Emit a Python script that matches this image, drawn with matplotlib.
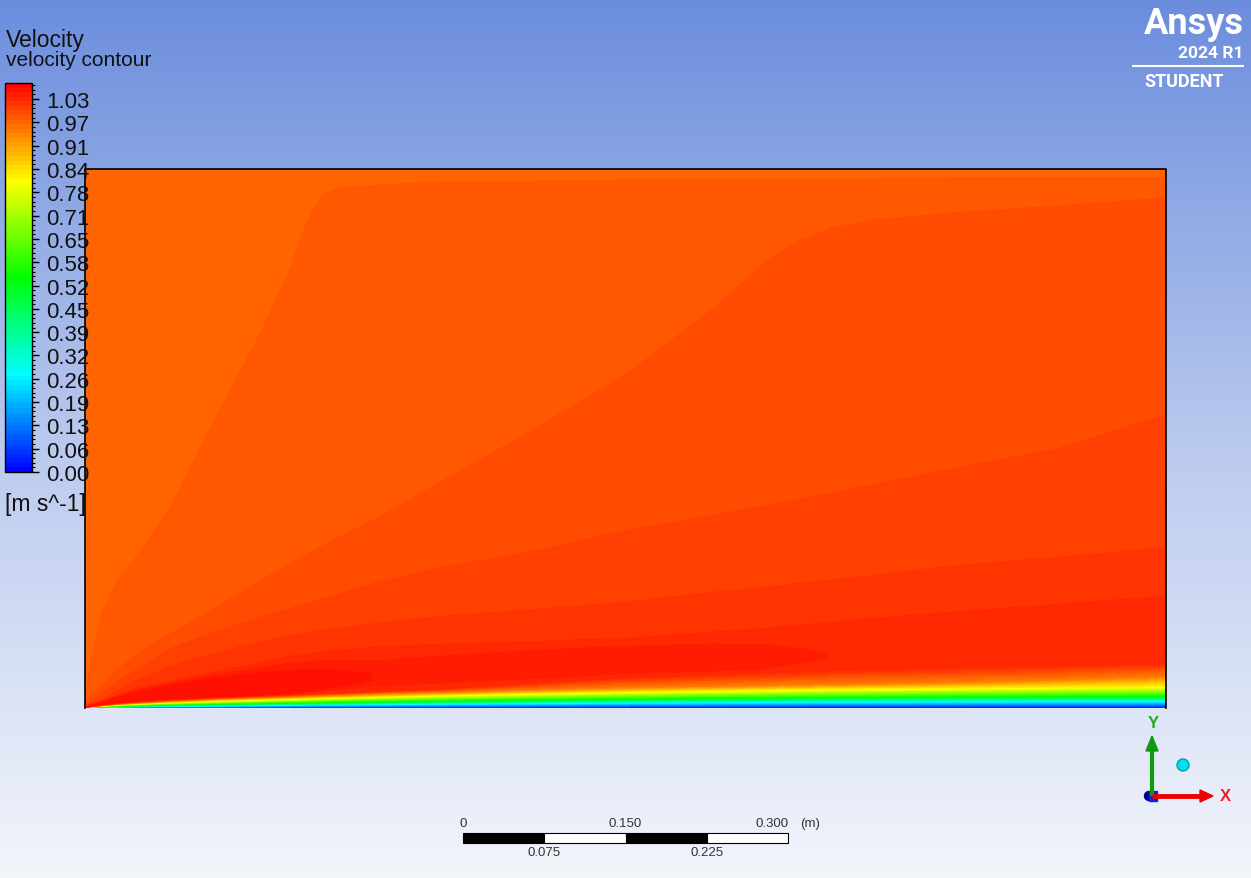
import numpy as np
import matplotlib
matplotlib.use("Agg")
import matplotlib.pyplot as plt
from matplotlib.colors import LinearSegmentedColormap
from matplotlib.patches import Rectangle, Circle, Polygon
from matplotlib.ticker import AutoMinorLocator

plt.rcParams['font.family'] = ['Liberation Sans', 'DejaVu Sans']

W, H = 1251, 879

# stations along the plate (m)
x_st = [0.0, 0.005, 0.015, 0.03, 0.05, 0.08, 0.1, 0.12, 0.16, 0.19, 0.2, 0.21, 0.22,
        0.235, 0.27, 0.33, 0.42, 0.5, 0.58, 0.63, 0.66, 0.69, 0.73, 0.8, 0.9, 1.0]

# heights (mm) of the velocity isolines at each station
y_cyan = [0.02, 0.3, 0.6, 0.9, 1.3, 1.7, 1.9, 2.1, 2.5, 2.8, 2.9, 3.0, 3.05,
          3.1, 3.4, 3.9, 4.4, 4.9, 5.3, 5.5, 5.6, 5.7, 5.8, 6.0, 6.3, 6.5]
y_green = [0.05, 0.5, 1.0, 1.7, 2.3, 3.0, 3.4, 3.8, 4.4, 4.9, 5.0, 5.2, 5.4,
           5.6, 6.0, 6.8, 7.8, 8.6, 9.3, 9.6, 9.8, 10.0, 10.2, 10.6, 10.9, 11.1]
y_yellow = [0.08, 0.7, 1.7, 2.8, 3.9, 5.1, 5.8, 6.5, 7.6, 8.3, 8.6, 8.9, 9.2,
            9.5, 10.4, 11.7, 13.4, 14.8, 15.9, 16.5, 16.9, 17.2, 17.6, 18.1, 18.9, 19.4]
y_orange = [0.12, 0.9, 2.1, 3.5, 4.9, 6.5, 7.4, 8.3, 9.7, 10.6, 11.0, 11.4, 11.8,
            12.2, 13.3, 14.8, 17.1, 19.0, 20.4, 21.3, 21.8, 22.2, 22.7, 24.1, 26.4, 29.6]
y_bl_edge = [0.2, 1.2, 2.7, 4.3, 5.8, 7.6, 8.6, 9.5, 11.1, 12.2, 12.6, 13.0, 13.5,
             13.9, 15.3, 17.6, 23.2, 27.8, 30.6, 31.9, 33.3, 34.3, 35.7, 37.0, 38.9, 40.7]
y_ridge_lo = [0.4, 1.7, 3.3, 5.1, 6.8, 8.7, 9.7, 10.6, 12.0, 13.9, 15.3, 16.7, 19.0,
              21.3, 25.9, 27.8, 30.6, 34.3, 36.1, 38.0, 42.6, 47.2, 48.2, 50.9, 55.6, 60.2]
y_ridge_hi = [0.6, 2.3, 4.5, 9.0, 14.0, 20.0, 23.0, 26.0, 29.5, 31.5, 32.0, 32.4, 32.4,
              32.4, 31.5, 38.9, 48.2, 52.8, 53.7, 53.7, 51.9, 50.0, 53.7, 61.1, 67.6, 75.9]
y_iso5 = [0.9, 2.8, 6.0, 12.0, 19.0, 25.0, 29.5, 34.0, 41.5, 48.2, 49.5, 50.9, 52.3,
          53.7, 56.5, 59.3, 62.0, 64.8, 70.4, 74.1, 76.9, 79.6, 83.3, 88.9, 96.3, 103.7]
y_iso4 = [1.9, 3.7, 7.4, 15.7, 26.9, 38.9, 45.0, 50.9, 61.1, 67.6, 69.0, 70.4, 72.2,
          74.1, 78.7, 85.2, 91.7, 98.2, 107.4, 112.0, 115.8, 118.5, 123.2, 131.5, 139.8, 149.1]
y_iso3 = [2.8, 5.6, 12.0, 24.1, 37.0, 55.6, 63.0, 70.4, 83.3, 92.6, 95.4, 98.2, 101.9,
          105.6, 116.7, 130.6, 146.3, 164.8, 178.7, 188.0, 193.5, 199.1, 207.4, 221.3, 240.8, 272.2]
y_iso2 = [4.6, 10.2, 20.4, 35.2, 51.9, 69.5, 81.0, 92.6, 116.7, 134.3, 139.8, 145.2, 150.6,
          158.6, 176.0, 210.2, 261.1, 309.3, 369.5, 413.9, 433.4, 445.4, 452.8, 459.3, 465.8, 473.2]
y_iso1 = [9.3, 40.7, 87.0, 118.5, 143.5, 188.0, 227.8, 267.6, 343.5, 407.4, 439.0, 460.0, 476.0,
          482.4, 485.2, 488.0, 488.9, 489.9, 489.9, 490.7, 490.7, 490.7, 490.7, 491.7, 491.7, 492.6]
y_top = 500.0

# peak velocity just outside the boundary layer (m/s)
u_ridge = [1.035, 1.058, 1.063, 1.063, 1.063, 1.063, 1.063, 1.063, 1.062, 1.061, 1.0605, 1.060, 1.059,
           1.058, 1.0535, 1.052, 1.050, 1.049, 1.048, 1.046, 1.0435, 1.0412, 1.040, 1.038, 1.036, 1.035]

# velocity carried by each isoline (m/s)
u_cyan, u_green, u_yellow, u_orange = 0.27, 0.54, 0.81, 0.945
u_iso = [1.0287, 1.0160, 1.0033, 0.9906, 0.9779]
u_top = 0.972

cbar_labels = ["0.00", "0.06", "0.13", "0.19", "0.26", "0.32", "0.39", "0.45", "0.52",
               "0.58", "0.65", "0.71", "0.78", "0.84", "0.91", "0.97", "1.03"]
legend_range = 1.0995
u_max = 1.0795
n_bands = 85

scale_labels_top = ["0", "0.150", "0.300"]
scale_labels_bot = ["0.075", "0.225"]

# ---- grid -------------------------------------------------------------
rows_y = [np.zeros(len(x_st)), y_cyan, y_green, y_yellow, y_orange, y_bl_edge,
          y_ridge_lo, y_ridge_hi, y_iso5, y_iso4, y_iso3, y_iso2, y_iso1,
          np.full(len(x_st), y_top)]
rows_u = [0.0, u_cyan, u_green, u_yellow, u_orange, u_iso[0],
          u_ridge, u_ridge, u_iso[0], u_iso[1], u_iso[2], u_iso[3], u_iso[4], u_top]

Y = np.array([np.asarray(r, float) for r in rows_y]) / 1000.0
U = np.array([np.broadcast_to(np.asarray(u, float), (len(x_st),)) for u in rows_u])
X = np.tile(np.asarray(x_st), (len(rows_y), 1))

cmap = LinearSegmentedColormap.from_list(
    "ansys_rainbow", ["#0000ff", "#00ffff", "#00ff00", "#ffff00", "#ff0000"])
levels = np.arange(n_bands + 1) * (u_max / n_bands)

fig = plt.figure(figsize=(W / 100, H / 100), dpi=100)


def box(x0, y0, x1, y1):
    return [x0 / W, 1 - y1 / H, (x1 - x0) / W, (y1 - y0) / H]


# background gradient
bg = fig.add_axes([0, 0, 1, 1])
grad = LinearSegmentedColormap.from_list("bg", ["#6b8ddd", "#b9c9ee", "#f3f5fb"])
bg.imshow(np.linspace(0, 1, 256)[:, None], aspect='auto', cmap=grad,
          extent=(0, W, H, 0))
bg.set_xlim(0, W)
bg.set_ylim(H, 0)
bg.axis('off')

# contour field
ax = fig.add_axes(box(85, 170, 1166, 709))
cs = ax.contourf(X, Y, U, levels=levels, cmap=cmap, vmin=0, vmax=u_max)
ax.set_xlim(0, 1.0)
ax.set_ylim(0, 0.5)
ax.axis('off')
ax.plot([0, 0, 1, 1], [0, 0.5, 0.5, 0], color='black', lw=1.2, clip_on=False)

# scale bar in domain units (m)
sb_x0, sb_y, sb_h = 0.35, -0.125, 0.0093
for i in range(4):
    ax.add_patch(Rectangle((sb_x0 + i * 0.075, sb_y), 0.075, sb_h,
                           facecolor='black' if i % 2 == 0 else 'white',
                           edgecolor='black', lw=0.8, clip_on=False))
for i, lab in enumerate(scale_labels_top):
    ax.text(sb_x0 + i * 0.15 - (0.014 if i == 2 else 0), -0.1065, lab,
            ha='center', va='center', fontsize=9.5, color='#333333')
ax.text(sb_x0 + 0.3 + 0.012, -0.1065, "(m)", ha='left', va='center',
        fontsize=9.5, color='#333333')
for i, lab in enumerate(scale_labels_bot):
    ax.text(sb_x0 + 0.075 + i * 0.15, -0.1335, lab, ha='center', va='center',
            fontsize=9.5, color='#333333')

# legend
cax = fig.add_axes(box(5, 84, 32, 473))
cax.set_zorder(5)
cb = fig.colorbar(cs, cax=cax)
cb.outline.set_edgecolor('black')
cb.outline.set_linewidth(1)
tick_pos = np.linspace(0, legend_range, 18)[:17]
cb.set_ticks(tick_pos)
cb.set_ticklabels(cbar_labels)
cax.yaxis.set_minor_locator(AutoMinorLocator(5))
cax.tick_params(which='major', length=5, width=1, pad=5, labelsize=16, colors='black')
cax.tick_params(which='minor', length=2.5, width=0.8, colors='black')
for t in cax.get_yticklabels():
    t.set_color('#111111')

bg.text(6, 40, "Velocity", fontsize=16.5, ha='left', va='center', color='#111111')
bg.text(6, 61, "velocity contour", fontsize=15, ha='left', va='center', color='#111111')
bg.text(5, 505, "[m s^-1]", fontsize=16.5, ha='left', va='center', color='#111111')

# logo
bg.text(1244, 24, "Ansys", fontsize=26, fontweight='bold', ha='right', va='center',
        color='white', family=['Roboto', 'DejaVu Sans'])
bg.text(1243, 53, "2024 R1", fontsize=12.5, fontweight='bold', ha='right', va='center',
        color='white', family=['Roboto', 'DejaVu Sans'])
bg.plot([1133, 1243], [67, 67], color='white', lw=1.5)
bg.text(1184, 82, "STUDENT", fontsize=13, fontweight='bold', ha='center', va='center',
        color='white', family=['Roboto', 'DejaVu Sans'])

# axis triad
bg.plot([1152, 1152], [797, 752], color='#119911', lw=3, solid_capstyle='butt')
bg.add_patch(Polygon([[1146, 752], [1158, 752], [1152, 737]], closed=True, color='#119911'))
bg.plot([1152, 1200], [797, 797], color='#ee0000', lw=3.5, solid_capstyle='butt')
bg.add_patch(Polygon([[1200, 791], [1200, 803], [1213, 797]], closed=True, color='#ee0000'))
bg.add_patch(Circle((1149, 797), 4.5, color='#000088'))
bg.add_patch(Rectangle((1149, 792), 8, 10, color='#1020dd'))
bg.add_patch(Circle((1183, 766), 6, facecolor='#00e0f0', edgecolor='#00a0b0', lw=1))
bg.text(1153, 724, "Y", fontsize=12, fontweight='bold', color='#22aa22', ha='center', va='center')
bg.text(1225, 797, "X", fontsize=12, fontweight='bold', color='#ee2222', ha='center', va='center')

fig.savefig("out.png", dpi=100)
